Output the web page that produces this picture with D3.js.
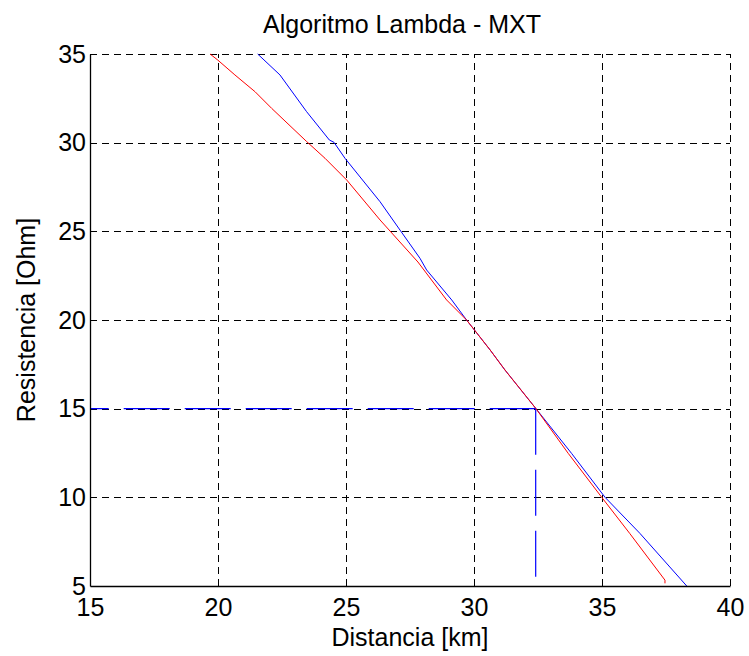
<!DOCTYPE html>
<html>
<head>
<meta charset="utf-8">
<script src="https://cdn.jsdelivr.net/npm/d3@7"></script>
<style>
  html, body { margin: 0; padding: 0; background: #fff; }
  svg { display: block; font-family: "Liberation Sans", Arial, Helvetica, sans-serif; }
</style>
</head>
<body>
<svg id="chart" width="749" height="656"></svg>
<script>
// Resistance vs. distance curves for the Lambda algorithm (MXT)
const redDist = [19.69, 19.99, 20.66, 21.45, 22.10, 23.45, 24.18, 25.03, 26.33, 27.81, 28.93, 29.71, 30.63, 31.21, 32.41, 33.68, 34.99, 36.08, 37.46, 37.46];
const redRes  = [35.00, 34.66, 33.82, 32.87, 31.93, 30.08, 29.12, 27.89, 25.64, 23.27, 21.13, 20.00, 18.31, 17.18, 15.02, 12.48, 10.00, 7.97, 5.33, 5.15];

const blueDist = [21.55, 22.42, 23.46, 24.35, 24.53, 24.96, 26.33, 27.11, 27.89, 28.15, 29.13, 29.71, 30.63, 31.21, 32.41, 33.81, 35.12, 36.48, 38.31];
const blueRes  = [35.00, 33.82, 31.75, 30.15, 30.02, 29.12, 26.67, 25.07, 23.48, 22.82, 21.13, 20.00, 18.31, 17.18, 15.02, 12.48, 10.00, 7.97, 5.00];

// Estimated fault point marked with guide lines
const markDist = 32.41;
const markRes = 15;

const xTicks = [15, 20, 25, 30, 35, 40];
const yTicks = [5, 10, 15, 20, 25, 30, 35];

const titleText = "Algoritmo Lambda - MXT";
const xLabel = "Distancia [km]";
const yLabel = "Resistencia [Ohm]";

const svg = d3.select("#chart");
const plotLeft = 90, plotRight = 730, plotTop = 54, plotBottom = 586;
const fontSize = "25px";

const x = d3.scaleLinear().domain([15, 40]).range([plotLeft, plotRight]);
const y = d3.scaleLinear().domain([5, 35]).range([plotBottom, plotTop]);

// Grid
const grid = svg.append("g")
  .attr("stroke", "#000")
  .attr("stroke-width", 1)
  .attr("stroke-dasharray", "7,5")
  .attr("shape-rendering", "crispEdges");
grid.selectAll("line.v").data(xTicks.slice(1)).join("line")
  .attr("x1", d => Math.round(x(d)) + 0.5).attr("x2", d => Math.round(x(d)) + 0.5)
  .attr("y1", plotBottom).attr("y2", plotTop);
grid.selectAll("line.h").data(yTicks.slice(1)).join("line")
  .attr("x1", plotLeft).attr("x2", plotRight)
  .attr("y1", d => Math.round(y(d)) + 0.5).attr("y2", d => Math.round(y(d)) + 0.5);

// Guide lines at the estimated point
const guide = svg.append("g")
  .attr("stroke", "#0000ff")
  .attr("stroke-width", 1.2)
  .attr("fill", "none")
  .attr("stroke-dasharray", "46,15");
guide.append("path")
  .attr("d", d3.line()([[x(markDist), y(markRes)], [x(15), y(markRes)]]));
guide.append("path")
  .attr("d", d3.line()([[x(markDist), y(markRes)], [x(markDist), y(5)]]));

// Curves
const line = d3.line().x(d => x(d[0])).y(d => y(d[1]));
svg.append("path")
  .datum(blueDist.map((d, i) => [d, blueRes[i]]))
  .attr("d", line)
  .attr("fill", "none").attr("stroke", "#0000ff").attr("stroke-width", 1);
svg.append("path")
  .datum(redDist.map((d, i) => [d, redRes[i]]))
  .attr("d", line)
  .attr("fill", "none").attr("stroke", "#ff0000").attr("stroke-width", 1);

// Axes (left and bottom only)
const xAxis = svg.append("g")
  .attr("transform", `translate(0,${plotBottom})`)
  .call(d3.axisBottom(x).tickValues(xTicks).tickSize(0).tickPadding(12));
const yAxis = svg.append("g")
  .attr("transform", `translate(${plotLeft},0)`)
  .call(d3.axisLeft(y).tickValues(yTicks).tickSize(0).tickPadding(4));
[xAxis, yAxis].forEach(g => {
  g.select(".domain").attr("stroke", "#000").attr("stroke-width", 1.3);
  g.selectAll("text").attr("fill", "#000")
    .style("font-family", '"Liberation Sans", Arial, sans-serif')
    .style("font-size", fontSize);
});

// Titles
svg.append("text")
  .attr("x", 402).attr("y", 33)
  .attr("text-anchor", "middle")
  .style("font-size", fontSize)
  .text(titleText);
svg.append("text")
  .attr("x", (plotLeft + plotRight) / 2).attr("y", 646)
  .attr("text-anchor", "middle")
  .style("font-size", fontSize)
  .text(xLabel);
svg.append("text")
  .attr("transform", `translate(35,${(plotTop + plotBottom) / 2}) rotate(-90)`)
  .attr("text-anchor", "middle")
  .style("font-size", fontSize)
  .text(yLabel);
</script>
</body>
</html>
